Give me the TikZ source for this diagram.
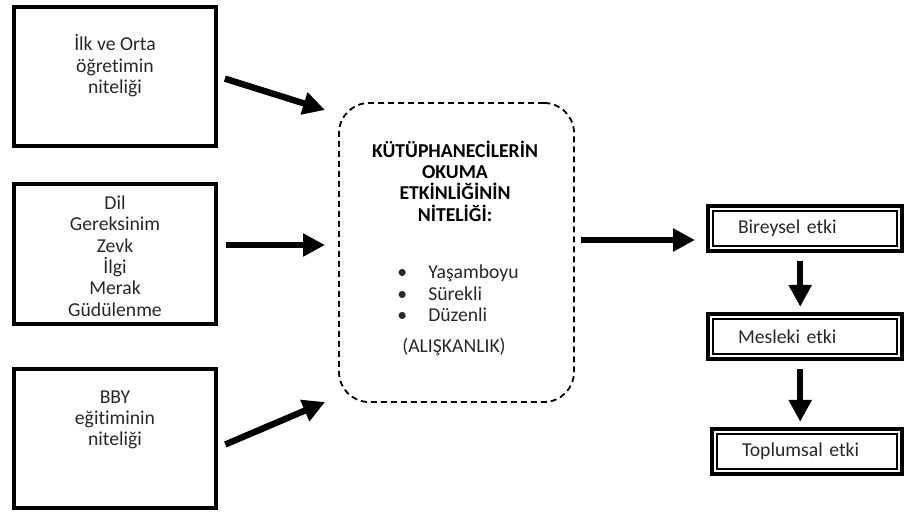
\documentclass[tikz,border=0pt]{standalone}
\usepackage{fontspec}
\setmainfont{Carlito}[Ligatures=NoCommon]
\usepackage{tikz}
\usetikzlibrary{positioning,shapes,fit}
\usetikzlibrary{calc}
\usetikzlibrary{arrows.meta}
\definecolor{yazirengi}{RGB}{40, 40, 40}

\begin{document}
\begin{tikzpicture}[font=\fontsize{14}{15.2}\selectfont,text=yazirengi,
	kutu/.style={rectangle,draw=black,line width=1mm,minimum width=5.05cm,minimum height=3.475cm},
	yazi/.style={align=center,inner sep=0pt},
	etki/.style={rectangle,draw=black,line width=0.3mm,minimum height=0.875cm,inner xsep=0.625cm,inner ysep=0.1cm,text width=3.35cm,align=left},
	cerceve/.style={rectangle,draw=black,line width=1mm,inner sep=0.11cm},
	ok/.style={-{Triangle[length=5.5mm,width=5.5mm]},line width=1.6mm}]
	\useasboundingbox (0,0) rectangle (22.6,-12.825);
	
	\node[kutu] (ilkbox) at(2.875,-1.9125) {};
	\node[kutu] (dilbox) at(2.875,-6.35) {};
	\node[kutu] (bbybox) at(2.875,-10.95) {};
	
	\node[yazi] (ilk) at(2.875,-1.65) {İlk ve Orta\\öğretimin\\niteliği};
	\node[yazi] (dil) at(2.875,-6.4) {Dil\\Gereksinim\\Zevk\\İlgi\\Merak\\Güdülenme};
	\node[yazi] (bby) at(2.875,-10.5) {BBY\\eğitiminin\\niteliği};
	
	\node[rectangle,draw=black,dashed,dash pattern=on 1.5mm off 1mm,line width=0.45mm,rounded corners=0.75cm,minimum width=5.875cm,minimum height=7.475cm] (okuma) at(11.4125,-6.3125) {};
	\node[yazi,font=\fontsize{14}{15.2}\selectfont\bfseries,text=black] (baslik) at(11.375,-4.525) {KÜTÜPHANECİLERİN\\OKUMA\\ETKİNLİĞİNİN\\NİTELİĞİ:};
	\node[yazi,align=left,anchor=west] (nitelik) at(9.925,-7.34) {\makebox[0.775cm][l]{•}Yaşamboyu\\\makebox[0.775cm][l]{•}Sürekli\\\makebox[0.775cm][l]{•}Düzenli};
	\node[yazi] (aliskanlik) at(11.35,-8.675) {(ALIŞKANLIK)};
	
	\node[etki] (bireysel) at(20.125,-5.7125) {Bireysel etki};
	\node[etki] (mesleki) at(20.125,-8.4125) {Mesleki etki};
	\node[etki,text width=3.25cm] (toplumsal) at(20.175,-11.2875) {Toplumsal etki};
	
	\node[cerceve, fit= (bireysel)] (bireyself) {};
	\node[cerceve, fit= (mesleki)] (meslekif) {};
	\node[cerceve, fit= (toplumsal)] (toplumsalf) {};
	
	\coordinate (giris1) at(8.125,-2.75);
	\coordinate (giris2) at(8.125,-6.125);
	\coordinate (giris3) at(8.125,-10.05);
	\coordinate (cikis) at(17.375,-6.0);
	
	\draw [ok,shorten <=0.18cm] (ilkbox.east) -- (giris1);
	\draw [ok,shorten <=0.2cm] (giris2 -| dilbox.east) -- (giris2);
	\draw [ok,shorten <=0.2cm] ([yshift=-0.24cm]bbybox.east) -- (giris3);
	
	\draw [ok,shorten <=0.15cm] (cikis -| okuma.east) -- (cikis);
	
	\draw [ok,shorten <=0.2cm,shorten >=0.13cm] ([xshift=-1.2mm]bireyself.south) -- ([xshift=-1.2mm]bireyself.south |- meslekif.north);
	\draw [ok,shorten <=0.2cm,shorten >=0.13cm] ([xshift=-1.2mm]meslekif.south) -- ([xshift=-1.2mm]meslekif.south |- toplumsalf.north);
	
\end{tikzpicture}
\end{document}
